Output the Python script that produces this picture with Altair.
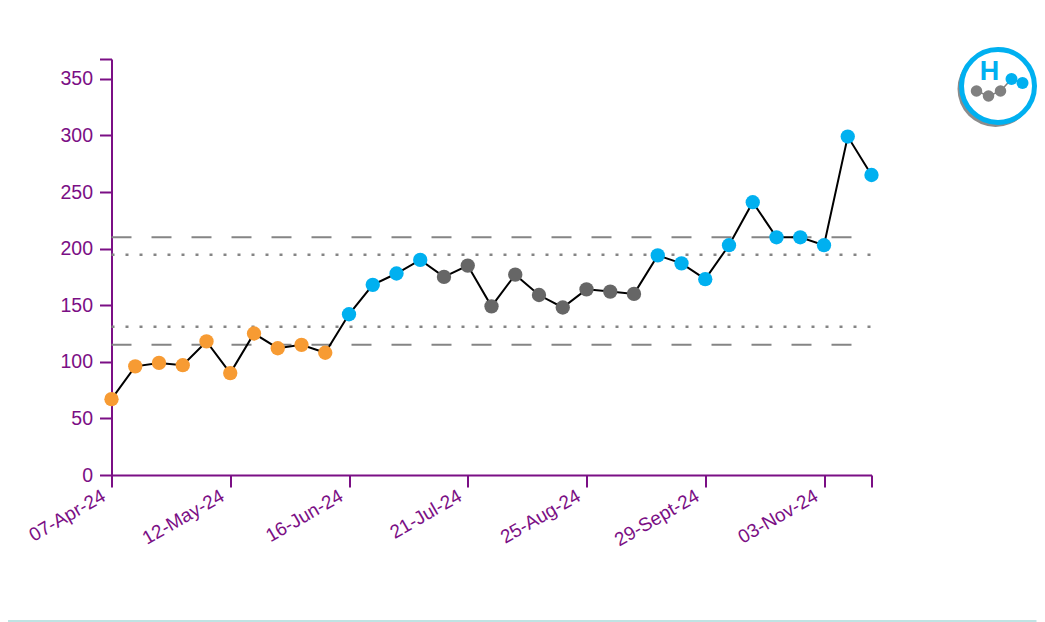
import altair as alt
import pandas as pd

weeks = pd.date_range("2024-04-07", periods=33, freq="7D")
labels = [f"{d.day:02d}-{d.strftime('%b')}-{d.strftime('%y')}" for d in weeks]
labels = [s.replace("-Sep-", "-Sept-") for s in labels]
values = [67, 96, 99, 97, 118, 90, 125, 112, 115, 108, 142, 168, 178, 190, 175, 185, 149,
          177, 159, 148, 164, 162, 160, 194, 187, 173, 203, 241, 210, 210, 203, 299, 265]
groups = ["low"] * 10 + ["high"] * 4 + ["mid"] * 9 + ["high"] * 10
tick_idx = [0, 5, 10, 15, 20, 25, 30, 32]
y_ticks = [0, 50, 100, 150, 200, 250, 300, 350]
y_top = 367.5
dashed_lines = [210, 115]
dotted_lines = [194.5, 131]

PURPLE = "#7B0F85"
ORANGE = "#F79B33"
BLUE = "#00B0F0"
GREY = "#666666"
FONT = "Liberation Sans"

df = pd.DataFrame({"week": labels, "value": values, "group": groups})
x_enc = alt.X(
    "week:N", sort=labels,
    scale=alt.Scale(type="point", padding=0, domain=labels),
    axis=alt.Axis(
        values=[labels[i] for i in tick_idx],
        labelExpr=f"datum.label == '{labels[32]}' ? '' : datum.label",
        title=None, labelAngle=-30, labelAlign="right", labelBaseline="middle",
        labelColor=PURPLE, labelFont=FONT, labelFontSize=19, labelPadding=7, labelOffset=-8,
        tickColor=PURPLE, tickSize=12, tickWidth=2, domainColor=PURPLE, domainWidth=2,
        grid=False, labelOverlap=False, labelFlush=False, labelBound=False,
    ),
)
y_enc = alt.Y(
    "value:Q",
    scale=alt.Scale(domain=[0, y_top], nice=False, zero=True),
    axis=alt.Axis(
        values=y_ticks + [y_top],
        labelExpr="datum.value > 360 ? '' : datum.label",
        title=None, labelColor=PURPLE, labelFont=FONT, labelFontSize=19.5, labelPadding=7,
        tickColor=PURPLE, tickSize=12, tickWidth=2, domainColor=PURPLE, domainWidth=2,
        grid=False, labelOverlap=False,
    ),
)


def ref_layer(levels, dash, width):
    rows = [{"week": w, "value": v, "k": str(v)} for v in levels for w in (labels[0], labels[-1])]
    return alt.Chart(pd.DataFrame(rows)).mark_line(
        color="#858585", strokeDash=dash, strokeWidth=width
    ).encode(x=x_enc, y=y_enc, detail="k:N")


base = alt.Chart(df)
line = base.mark_line(color="#000000", strokeWidth=2).encode(x=x_enc, y=y_enc)
points = base.mark_point(filled=True, opacity=1, size=205, strokeWidth=0).encode(
    x=x_enc, y=y_enc,
    color=alt.Color("group:N", legend=None,
                    scale=alt.Scale(domain=["low", "mid", "high"], range=[ORANGE, GREY, BLUE])),
)

OX, OY = 112, 59
LOGO_DX = -6


def one(mark_fn, **enc):
    return mark_fn(alt.Chart(pd.DataFrame({"a": [0]}))).encode(**enc)


def circle(cx, cy, d, fill, stroke=None, sw=0):
    kw = dict(filled=True, fill=fill, opacity=1, size=d * d, shape="circle")
    if stroke:
        kw.update(stroke=stroke, strokeWidth=sw)
    return one(lambda c: c.mark_point(**kw), x=alt.value(cx + LOGO_DX - OX), y=alt.value(cy - OY))


def seg(p, q, color, w=1.5):
    return one(lambda c: c.mark_rule(color=color, strokeWidth=w),
               x=alt.value(p[0] + LOGO_DX - OX), y=alt.value(p[1] - OY),
               x2=alt.value(q[0] + LOGO_DX - OX), y2=alt.value(q[1] - OY))


logo_grey = [(983, 91), (995, 96), (1007, 91)]
logo_blue = [(1018, 79), (1029, 83)]
logo = [
    circle(1002, 89, 76, "#8c8c8c"),
    circle(1004.5, 86, 73, "#ffffff", BLUE, 5),
    seg(logo_grey[0], logo_grey[1], "#808080"),
    seg(logo_grey[1], logo_grey[2], "#808080"),
    seg(logo_grey[2], logo_blue[0], "#808080"),
    seg(logo_blue[0], logo_blue[1], BLUE),
]
logo += [circle(x, y, 11.5, "#808080") for x, y in logo_grey]
logo += [circle(x, y, 12, BLUE) for x, y in logo_blue]
logo.append(one(lambda c: c.mark_text(text="H", font=FONT, fontSize=27, color=BLUE, fontWeight="bold",
                                      align="center", baseline="middle"),
                x=alt.value(996 + LOGO_DX - OX), y=alt.value(72 - OY)))

bottom = one(lambda c: c.mark_rule(color="#BFE3E3", strokeWidth=2),
             x=alt.value(8 - OX), x2=alt.value(1037 - OX), y=alt.value(621 - OY))

chart = alt.layer(
    ref_layer(dashed_lines, [20, 20], 2),
    ref_layer(dotted_lines, [3, 11], 2.5),
    line, points, *logo, bottom,
).properties(
    width=760, height=416,
    autosize=alt.AutoSizeParams(type="none"),
    padding={"left": 103.5, "top": 51, "right": 165.5, "bottom": 147},
    background="#ffffff",
).configure_view(stroke=None)

chart.save("out.html", embed_options={"renderer": "svg", "actions": False})
